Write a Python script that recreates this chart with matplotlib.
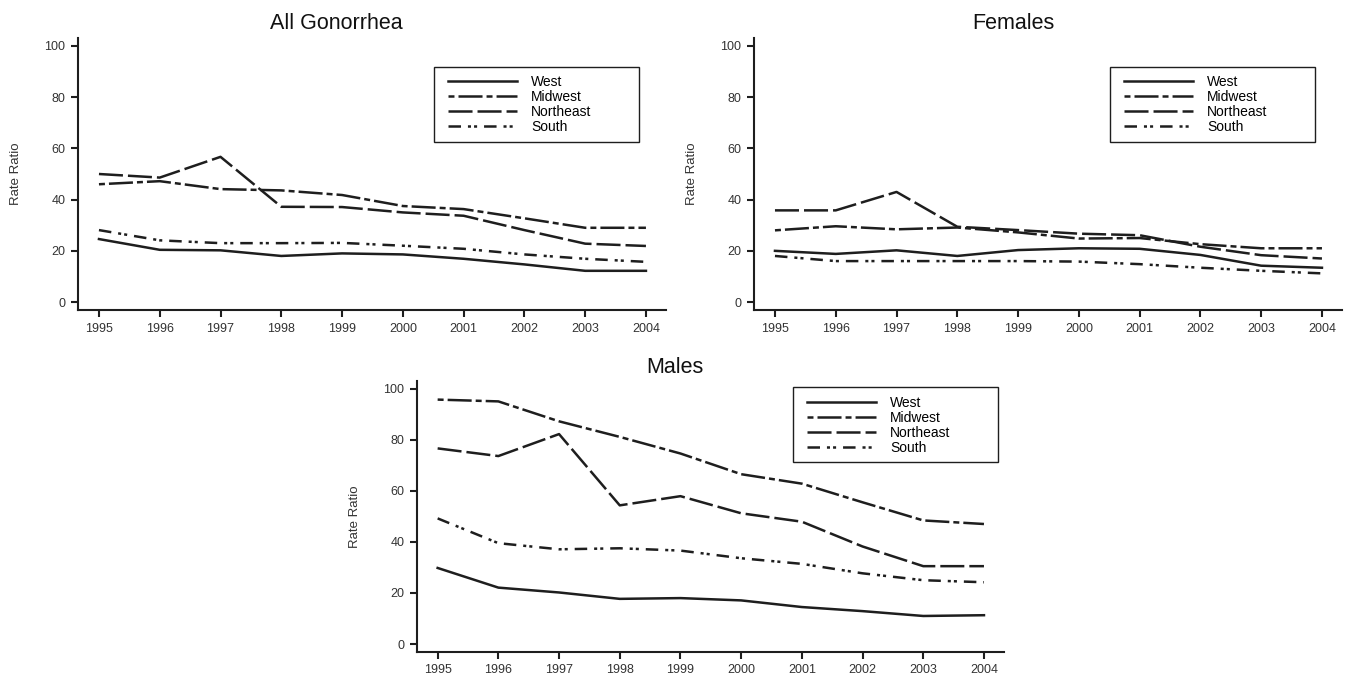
import matplotlib
matplotlib.use("Agg")
import matplotlib.pyplot as plt
from matplotlib.patches import Rectangle

plt.rcParams['font.family'] = ['Liberation Sans', 'DejaVu Sans']
plt.rcParams['lines.scale_dashes'] = False

# 年份與地區
years = [1995, 1996, 1997, 1998, 1999, 2000, 2001, 2002, 2003, 2004]
regions = ["West", "Midwest", "Northeast", "South"]
yticks = [0, 20, 40, 60, 80, 100]

# All Gonorrhea
all_west = [24.6, 20.4, 20.2, 18.0, 19.0, 18.6, 16.9, 14.7, 12.2, 12.2]
all_midwest = [46.0, 47.2, 44.1, 43.6, 41.8, 37.5, 36.3, 32.7, 29.0, 29.0]
all_northeast = [50.0, 48.6, 56.7, 37.2, 37.1, 35.0, 33.7, 28.1, 22.8, 21.9]
all_south = [28.1, 24.1, 23.0, 23.0, 23.1, 22.0, 20.8, 18.6, 16.9, 15.7]

# Females
fem_west = [20.0, 18.8, 20.2, 18.0, 20.3, 21.0, 20.8, 18.4, 14.2, 13.4]
fem_midwest = [28.0, 29.6, 28.4, 29.1, 27.2, 24.8, 25.0, 22.6, 21.0, 21.0]
fem_northeast = [35.8, 35.8, 43.0, 29.4, 28.1, 26.7, 26.1, 21.6, 18.3, 17.0]
fem_south = [18.0, 16.0, 16.0, 16.0, 16.0, 15.8, 14.8, 13.4, 12.2, 11.2]

# Males
male_west = [29.8, 22.1, 20.2, 17.7, 18.0, 17.1, 14.5, 12.9, 11.0, 11.3]
male_midwest = [95.7, 95.0, 87.2, 81.1, 74.6, 66.5, 62.8, 55.5, 48.4, 47.0]
male_northeast = [76.6, 73.6, 82.2, 54.3, 57.9, 51.2, 47.9, 38.2, 30.5, 30.5]
male_south = [49.2, 39.5, 37.1, 37.5, 36.6, 33.6, 31.4, 27.7, 25.0, 24.2]

# 線型 (points)
dash_styles = {
    "West": None,
    "Midwest": (0, (4.3, 2.9, 17.3, 2.9)),
    "Northeast": (0, (17.3, 3.6)),
    "South": (0, (9.0, 5.0, 2.2, 2.2, 2.2, 5.0)),
}

ink = "#1e1e1e"
text_c = "#333333"


def draw(ax, series, handle_xy, box):
    for name, vals in zip(regions, series):
        ls = dash_styles[name]
        if ls is None:
            ax.plot(years, vals, color=ink, lw=1.8, label=name,
                    solid_joinstyle="miter")
        else:
            ax.plot(years, vals, color=ink, lw=1.8, linestyle=ls, label=name)

    ax.set_xlim(1994.655, 2004.33)
    ax.set_ylim(-3.1, 103.1)
    ax.set_xticks(years)
    ax.set_yticks(yticks)
    for s in ["top", "right"]:
        ax.spines[s].set_visible(False)
    for s in ["left", "bottom"]:
        ax.spines[s].set_linewidth(1.5)
        ax.spines[s].set_color(ink)
    ax.tick_params(direction="out", length=5, width=1.5, color=ink,
                   labelsize=9, labelcolor=text_c, pad=4)
    ax.set_ylabel("Rate Ratio", fontsize=9.5, color=text_c)
    ax.yaxis.set_label_coords(-0.095, 0.5)

    ax.legend(loc="upper left", bbox_to_anchor=handle_xy, frameon=False,
              borderpad=0, borderaxespad=0, handlelength=5.0,
              handletextpad=1.0, labelspacing=0.08, fontsize=10)
    ax.add_patch(Rectangle(box[:2], box[2], box[3], transform=ax.transAxes,
                           fill=False, lw=1.0, ec=ink, clip_on=False))


fig = plt.figure(figsize=(13.55, 6.83), dpi=100)

ax1 = fig.add_axes([0.05756, 0.54612, 0.43395, 0.39824])
ax2 = fig.add_axes([0.55646, 0.54612, 0.43395, 0.39824])
ax3 = fig.add_axes([0.30753, 0.04539, 0.43343, 0.39722])

draw(ax1, [all_west, all_midwest, all_northeast, all_south],
     (0.629, 0.865), (0.605, 0.618, 0.349, 0.276))
draw(ax2, [fem_west, fem_midwest, fem_northeast, fem_south],
     (0.629, 0.865), (0.605, 0.618, 0.349, 0.276))
draw(ax3, [male_west, male_midwest, male_northeast, male_south],
     (0.664, 0.944), (0.641, 0.700, 0.349, 0.277))

fig.text(0.248, 0.9575, "All Gonorrhea", ha="center", va="baseline",
         fontsize=15.5, color="#111111")
fig.text(0.7476, 0.9575, "Females", ha="center", va="baseline",
         fontsize=15.5, color="#111111")
fig.text(0.498, 0.4543, "Males", ha="center", va="baseline",
         fontsize=15.5, color="#111111")

fig.savefig("out.png", dpi=100)
